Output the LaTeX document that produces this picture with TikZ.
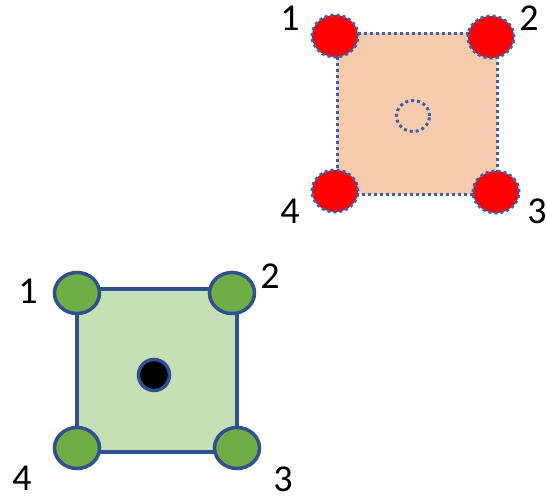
\documentclass[tikz,border=0pt]{standalone}
\usepackage{fontspec}
\setmainfont{Carlito}
\usetikzlibrary{shapes.geometric}
\definecolor{peach}{HTML}{F8CBAD}
\definecolor{lgreen}{HTML}{C5E0B4}
\definecolor{mgreen}{HTML}{70AD47}
\definecolor{dblue}{HTML}{2F528F}
\definecolor{mblue}{HTML}{3A60A8}
\tikzset{
  dotline/.style={draw=mblue, line width=3pt, dash pattern=on 3pt off 3pt},
  redcorner/.style={ellipse, fill=red, dotline, minimum width=46pt, minimum height=42pt, inner sep=0pt},
  greencorner/.style={ellipse, fill=mgreen, draw=dblue, line width=3.5pt, minimum width=45pt, minimum height=41pt, inner sep=0pt},
  lbl/.style={font=\fontsize{38}{44}\selectfont, inner sep=0pt}
}
\begin{document}
\begin{tikzpicture}[x=1pt,y=-1pt]
\useasboundingbox (0,0) rectangle (547,501);
% top square
\draw[fill=peach, dotline] (337,33) rectangle (497,194);
\node[redcorner] (t1) at (335,36) {};
\node[redcorner] (t2) at (491,37) {};
\node[redcorner] (t3) at (496,192) {};
\node[redcorner] (t4) at (335,191) {};
\node[ellipse, dotline, minimum width=33pt, minimum height=31pt, inner sep=0pt] (tc) at (413,116) {};
\node[lbl] (l1) at (290,18) {1};
\node[lbl] (l2) at (529,18) {2};
\node[lbl] (l3) at (537,211) {3};
\node[lbl] (l4) at (290,211) {4};
% bottom square
\draw[fill=lgreen, draw=dblue, line width=3.5pt] (77,289) rectangle (237,452);
\node[greencorner] (b1) at (77,293) {};
\node[greencorner] (b2) at (232,293) {};
\node[greencorner] (b3) at (237,448) {};
\node[greencorner] (b4) at (77,448) {};
\node[circle, fill=black, draw=dblue, line width=3.5pt, minimum size=31pt, inner sep=0pt] (bc) at (154,375) {};
\node[lbl] (m1) at (28,291) {1};
\node[lbl] (m2) at (270,276) {2};
\node[lbl] (m3) at (283,479) {3};
\node[lbl] (m4) at (22,478) {4};
\end{tikzpicture}
\end{document}
